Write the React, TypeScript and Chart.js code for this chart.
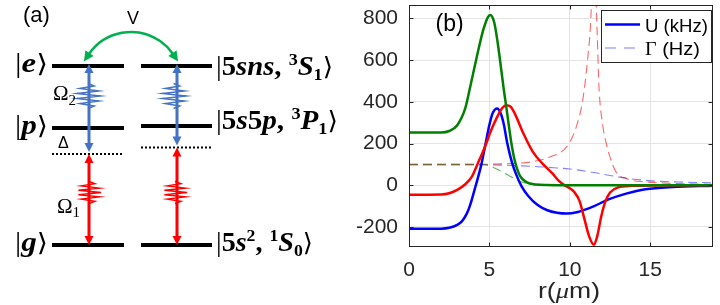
import React, { useEffect, useRef } from 'react';
import { Chart, registerables } from 'chart.js';

Chart.register(...registerables);

// ================= Panel (b) data =================
// Solid curves: U (kHz) vs r (µm)
const rBlue = [0, 2.0, 2.5, 3.0, 3.3, 3.6, 3.8, 4.1, 4.3, 4.5, 4.8, 5.0, 5.2, 5.48, 5.7, 5.9, 6.1, 6.4, 6.7, 7.0, 7.4, 8.0, 8.6, 9.2, 9.8, 10.5, 11.4, 12.4, 13.5, 14.7, 16.4, 18.9];
const uBlue = [-208, -208, -204, -190, -172, -135, -95, -15, 40, 100, 215, 290, 345, 368, 345, 290, 205, 110, 45, -5, -50, -95, -120, -132, -136, -128, -104, -68, -40, -19, -8, -2];

const rRed = [0, 2.0, 2.5, 3.0, 3.5, 3.9, 4.25, 4.7, 5.1, 5.5, 5.8, 6.05, 6.3, 6.6, 7.1, 7.7, 8.3, 8.9, 9.3, 9.7, 10.0, 10.3, 10.6, 10.9, 11.2, 11.49, 11.7, 11.95, 12.2, 12.5, 13.0, 13.9, 15, 18.9];
const uRed = [-45, -44, -38, -22, 5, 40, 100, 180, 262, 330, 370, 384, 378, 340, 250, 160, 104, 58, 22, -2, -14, -35, -75, -160, -245, -285, -245, -150, -80, -35, -10, -3, -1, 0];

const rGreen = [0, 2.0, 2.5, 3.0, 3.5, 3.8, 4.2, 4.6, 4.9, 5.05, 5.3, 5.5, 5.7, 5.9, 6.05, 6.2, 6.4, 6.6, 6.9, 7.3, 7.9, 8.6, 9.5, 18.9];
const uGreen = [253, 253, 260, 288, 370, 470, 610, 740, 805, 816, 780, 690, 575, 455, 375, 290, 185, 110, 45, 15, 4, 1, 0, 0];

// Dashed curves: Γ (Hz) vs r (µm)
const rGammaBlue = [0, 5, 6, 7, 8, 9, 10, 11.4, 12.5, 13.5, 14.5, 15.5, 17, 18.9];
const gammaBlue = [97, 97, 96, 93, 89, 84, 78, 62, 47, 34, 25, 19, 15, 12];

const rGammaRed = [0, 4, 5, 6, 7, 7.7, 8.4, 8.9, 9.3, 9.6, 9.95, 10.4, 10.8, 11.1, 11.3, 11.47, 11.7, 11.8, 12.05, 12.25, 12.46, 12.87, 13.5, 14.7, 16.8, 18.9];
const gammaRed = [100, 100, 101, 103, 107, 113, 125, 140, 152, 168, 200, 280, 408, 600, 790, 1150, 730, 490, 285, 205, 144, 64, 32, 16, 8, 5];

const rGammaGreen = [0, 4.5, 4.8, 5.2, 5.6, 6.2, 6.8, 7.5, 8.0, 9.0, 18.9];
const gammaGreen = [101, 101, 98, 88, 72, 47, 22, 6, 1, 0, 0];

const xTicks = [0, 5, 10, 15];
const yTicks = [-200, 0, 200, 400, 600, 800];
const xRange = [0, 18.9];
const yRange = [-296, 864];
const legendLabels = ['U (kHz)', 'Γ (Hz)'];
const panelLabels = ['(a)', '(b)'];
const xAxisLabel = ['r(', 'μ', 'm)'];

// ================= Panel (a) data (level diagram, px-like units) =================
const columnsX = [[52, 124], [141, 212]];
const levelNames = ['e', 'p', 'g'];
const levelYLeft = [66, 128, 245];
const levelYRight = [66, 126, 245];
const virtualY = [154, 147.5];
const arrowX = [89, 177];
const wiggleBlueX = [88, 173.5];
const wiggleRedX = [89, 175];
const wiggleBlueY = 96;
const wiggleRedY = 192.5;
const arcEndsX = [89, 173];
const arcBaseY = 54;
const arcPeakY = 32;
const couplingLabel = 'V';
const rightLabelBaseline = [75, 129, 251];

// ================= styles =================
const SANS = '"Liberation Sans", Arial, sans-serif';
const SERIF = '"Liberation Serif", "Times New Roman", serif';
const MATH = '"DejaVu Serif", serif';
const AX = '#262626';
const GRID = '#e4e4e4';
const BLUE_ARROW = '#4472C4';
const RED_ARROW = '#FF0000';
const GREEN_ARC = '#00B050';

type Seg = { t: string; f: string; dy?: number };

function drawRich(ctx: CanvasRenderingContext2D, segs: Seg[], x: number, y: number, align: 'left' | 'right' | 'center', targetW?: number, color = '#000') {
  ctx.save();
  let W = 0;
  const ws: number[] = [];
  for (const s of segs) {
    ctx.font = s.f;
    const w = ctx.measureText(s.t).width;
    ws.push(w);
    W += w;
  }
  const sc = targetW ? targetW / W : 1;
  const tw = W * sc;
  const x0 = align === 'left' ? x : align === 'right' ? x - tw : x - tw / 2;
  ctx.translate(x0, y);
  ctx.scale(sc, 1);
  ctx.fillStyle = color;
  ctx.textBaseline = 'alphabetic';
  ctx.textAlign = 'left';
  let cx = 0;
  segs.forEach((s, i) => {
    ctx.font = s.f;
    ctx.fillText(s.t, cx, s.dy || 0);
    cx += ws[i];
  });
  ctx.restore();
}

const pts = (xs: number[], ys: number[]) => xs.map((x, i) => ({ x, y: ys[i] }));

function arrowHead(ctx: CanvasRenderingContext2D, tipX: number, tipY: number, dx: number, dy: number, color: string, len = 9, half = 4.5) {
  const n = Math.hypot(dx, dy);
  const ux = dx / n, uy = dy / n;
  const bx = tipX - ux * len, by = tipY - uy * len;
  ctx.beginPath();
  ctx.moveTo(tipX, tipY);
  ctx.lineTo(bx - uy * half, by + ux * half);
  ctx.lineTo(bx + uy * half, by - ux * half);
  ctx.closePath();
  ctx.fillStyle = color;
  ctx.fill();
}

function wiggle(ctx: CanvasRenderingContext2D, cx: number, cy: number, halfH: number, amp: number, color: string) {
  const n = 10;
  ctx.save();
  ctx.strokeStyle = color;
  ctx.lineWidth = 1.4;
  ctx.lineJoin = 'miter';
  ctx.beginPath();
  for (let i = 0; i <= n; i++) {
    const t = i / n;
    const env = Math.pow(Math.sin(Math.PI * t), 0.6);
    const side = i % 2 === 0 ? -1 : 1;
    const x = cx + side * amp * env * (side > 0 ? 1.05 : 0.95);
    const y = cy - halfH + 2 * halfH * t;
    if (i === 0) ctx.moveTo(x, y); else ctx.lineTo(x, y);
  }
  ctx.stroke();
  ctx.restore();
}

const diagramPlugin = {
  id: 'diagramA',
  afterDatasetsDraw(chart: any) {
    const ctx: CanvasRenderingContext2D = chart.ctx;
    const sx = chart.scales.x, sy = chart.scales.y;
    const X = (v: number) => sx.getPixelForValue(v);
    const Y = (v: number) => sy.getPixelForValue(v);

    // arrowheads
    for (let c = 0; c < 2; c++) {
      const ys = c === 0 ? levelYLeft : levelYRight;
      const ax = X(arrowX[c]);
      arrowHead(ctx, ax, Y(ys[0] - 2), 0, -1, BLUE_ARROW);
      arrowHead(ctx, ax, Y(virtualY[c] - 2), 0, 1, BLUE_ARROW);
      arrowHead(ctx, ax, Y(virtualY[c]), 0, -1, RED_ARROW);
      arrowHead(ctx, ax, Y(ys[2]), 0, 1, RED_ARROW);
      wiggle(ctx, X(wiggleBlueX[c]), Y(wiggleBlueY), 12.5, 12, BLUE_ARROW);
      wiggle(ctx, X(wiggleRedX[c]), Y(wiggleRedY), 11, 11.5, RED_ARROW);
    }

    // green coupling arc
    const xl = X(arcEndsX[0]), xr = X(arcEndsX[1]);
    const yb = Y(arcBaseY), yp = Y(arcPeakY);
    const h = (xr - xl) / 2, s = yb - yp;
    const R = (h * h + s * s) / (2 * s);
    const cxA = (xl + xr) / 2, cyA = yp + R;
    const a0 = Math.atan2(yb - cyA, xl - cxA), a1 = Math.atan2(yb - cyA, xr - cxA);
    ctx.save();
    ctx.strokeStyle = GREEN_ARC;
    ctx.lineWidth = 2.5;
    ctx.beginPath();
    ctx.arc(cxA, cyA, R, a0, a1, false);
    ctx.stroke();
    ctx.restore();
    const tl = [-(yb - cyA), xl - cxA]; // tangent at left end
    const tlx = -(cyA - yb) * 0 + (yb - cyA), tly = -(xl - cxA);
    // left: direction down-left; right: down-right
    const lvx = (yb - cyA) / R, lvy = -(xl - cxA) / R; // perpendicular
    const dL = lvy > 0 ? [lvx, lvy] : [-lvx, -lvy];
    const rvx = (yb - cyA) / R, rvy = -(xr - cxA) / R;
    const dR = rvy > 0 ? [rvx, rvy] : [-rvx, -rvy];
    void tl; void tlx; void tly;
    arrowHead(ctx, xl + dL[0] * 9, yb + dL[1] * 9, dL[0], dL[1], GREEN_ARC, 10, 5);
    arrowHead(ctx, xr + dR[0] * 9, yb + dR[1] * 9, dR[0], dR[1], GREEN_ARC, 10, 5);

    // texts
    drawRich(ctx, [{ t: panelLabels[0], f: `22px ${SANS}` }], X(23), Y(22), 'left');
    drawRich(ctx, [{ t: couplingLabel, f: `18px ${SANS}` }], X(133), Y(23.5), 'center');

    levelNames.forEach((nm, i) => {
      drawRich(ctx, [
        { t: '|', f: `27px ${SERIF}` },
        { t: nm, f: `italic bold 27px ${SERIF}` },
        { t: '⟩', f: `25px ${MATH}` },
      ], X(48), Y(levelYLeft[i] + 6), 'right', 33);
    });

    const B = (sz: number) => `bold ${sz}px ${SERIF}`;
    const BI = (sz: number) => `italic bold ${sz}px ${SERIF}`;
    const bar = { t: '|', f: `27px ${SERIF}` };
    const ket = { t: '⟩', f: `25px ${MATH}` };
    const rightLabels: { segs: Seg[]; w: number }[] = [
      { segs: [bar, { t: '5', f: B(27) }, { t: 'sns', f: BI(27) }, { t: ', ', f: B(27) }, { t: '3', f: B(17), dy: -10 }, { t: 'S', f: BI(27) }, { t: '1', f: B(17), dy: 5 }, ket], w: 117 },
      { segs: [bar, { t: '5', f: B(27) }, { t: 's', f: BI(27) }, { t: '5', f: B(27) }, { t: 'p', f: BI(27) }, { t: ', ', f: B(27) }, { t: '3', f: B(17), dy: -10 }, { t: 'P', f: BI(27) }, { t: '1', f: B(17), dy: 5 }, ket], w: 122 },
      { segs: [bar, { t: '5', f: B(27) }, { t: 's', f: BI(27) }, { t: '2', f: B(17), dy: -10 }, { t: ', ', f: B(27) }, { t: '1', f: B(17), dy: -10 }, { t: 'S', f: BI(27) }, { t: '0', f: B(17), dy: 5 }, ket], w: 97 },
    ];
    rightLabels.forEach((lb, i) => drawRich(ctx, lb.segs, X(216), Y(rightLabelBaseline[i]), 'left', lb.w));

    drawRich(ctx, [{ t: 'Ω', f: `21px ${SERIF}` }, { t: '2', f: `15px ${SERIF}`, dy: 5 }], X(53), Y(100), 'left');
    drawRich(ctx, [{ t: 'Ω', f: `21px ${SERIF}` }, { t: '1', f: `15px ${SERIF}`, dy: 4 }], X(57), Y(213), 'left');
    drawRich(ctx, [{ t: 'Δ', f: `16px ${SANS}` }], X(58), Y(148), 'left');
  },
};

const panelBPlugin = {
  id: 'panelB',
  afterDraw(chart: any) {
    const ctx: CanvasRenderingContext2D = chart.ctx;
    const ca = chart.chartArea;
    const sx = chart.scales.x, sy = chart.scales.y;
    ctx.save();
    ctx.strokeStyle = AX;
    ctx.lineWidth = 1;
    const L = Math.round(ca.left) + 0.5, R = Math.round(ca.right) - 0.5;
    const T = Math.round(ca.top) + 0.5, Bt = Math.round(ca.bottom) - 0.5;
    ctx.beginPath();
    for (const v of xTicks) {
      const p = Math.round(sx.getPixelForValue(v)) + 0.5;
      ctx.moveTo(p, Bt); ctx.lineTo(p, Bt - 4);
      ctx.moveTo(p, T); ctx.lineTo(p, T + 4);
    }
    for (const v of yTicks) {
      const p = Math.round(sy.getPixelForValue(v)) + 0.5;
      ctx.moveTo(L, p); ctx.lineTo(L + 4, p);
      ctx.moveTo(R, p); ctx.lineTo(R - 4, p);
    }
    ctx.stroke();
    ctx.strokeRect(L, T, R - L, Bt - T);
    ctx.restore();

    // panel label (b)
    drawRich(ctx, [{ t: panelLabels[1], f: `23px ${SANS}` }], ca.left + 26.5, ca.top + 25.5, 'left');

    // x-axis label r(µm)
    drawRich(ctx, [
      { t: xAxisLabel[0], f: `22px ${SANS}` },
      { t: xAxisLabel[1], f: `italic 22px ${SERIF}` },
      { t: xAxisLabel[2], f: `22px ${SANS}` },
    ], 569, 297.5, 'center', 62, AX);

    // legend
    const lw = 110, lh = 52;
    const lx = Math.round(ca.right) - 111.5, ly = Math.round(ca.top) + 5.5;
    ctx.save();
    ctx.fillStyle = '#fff';
    ctx.fillRect(lx, ly, lw, lh);
    ctx.strokeStyle = AX;
    ctx.lineWidth = 1;
    ctx.strokeRect(lx, ly, lw, lh);
    ctx.strokeStyle = '#0000ff';
    ctx.lineWidth = 2.5;
    ctx.beginPath(); ctx.moveTo(lx + 3.5, ly + 14); ctx.lineTo(lx + 38.5, ly + 14); ctx.stroke();
    ctx.strokeStyle = 'rgba(70,70,255,0.7)';
    ctx.lineWidth = 1.2;
    ctx.setLineDash([11, 8]);
    ctx.beginPath(); ctx.moveTo(lx + 3.5, ly + 37.5); ctx.lineTo(lx + 38.5, ly + 37.5); ctx.stroke();
    ctx.restore();
    drawRich(ctx, [{ t: legendLabels[0], f: `19px ${SANS}` }], lx + 43.5, ly + 21, 'left', 63);
    drawRich(ctx, [{ t: legendLabels[1].slice(0, 1), f: `19px ${SERIF}` }, { t: legendLabels[1].slice(1), f: `19px ${SANS}` }], lx + 43.5, ly + 44.5, 'left', 55);
  },
};

export default function App() {
  const mainRef = useRef<HTMLCanvasElement>(null);
  const diagRef = useRef<HTMLCanvasElement>(null);

  useEffect(() => {
    document.body.style.margin = '0';
    document.body.style.background = '#fff';

    const solid = (data: any, color: string, order: number) => ({
      data, borderColor: color, borderWidth: 2.5, pointRadius: 0, order,
      cubicInterpolationMode: 'monotone', fill: false,
    });
    const dashed = (data: any, color: string, order: number) => ({
      data, borderColor: color, borderWidth: 1.1, pointRadius: 0, order,
      borderDash: [9, 5], cubicInterpolationMode: 'monotone', fill: false,
    });

    const main = new Chart(mainRef.current!, {
      type: 'line',
      data: {
        datasets: [
          solid(pts(rGreen, uGreen), '#008000', 0),
          solid(pts(rRed, uRed), '#ff0000', 1),
          solid(pts(rBlue, uBlue), '#0000ff', 2),
          dashed(pts(rGammaGreen, gammaGreen), 'rgba(0,128,0,0.6)', 3),
          dashed(pts(rGammaRed, gammaRed), 'rgba(255,0,0,0.6)', 4),
          dashed(pts(rGammaBlue, gammaBlue), 'rgba(60,60,255,0.65)', 5),
        ] as any,
      },
      options: {
        animation: false,
        responsive: false,
        devicePixelRatio: 1,
        events: [],
        layout: { padding: { top: 5, right: 7, bottom: 0, left: 0 } },
        plugins: { legend: { display: false }, tooltip: { enabled: false } },
        scales: {
          x: {
            type: 'linear', min: xRange[0], max: xRange[1],
            afterBuildTicks: (s: any) => { s.ticks = xTicks.map((v) => ({ value: v })); },
            afterFit: (s: any) => { s.height = 58; s.paddingLeft = 0; s.paddingRight = 0; },
            grid: { color: GRID, drawTicks: false, lineWidth: 1 },
            border: { display: false },
            ticks: { padding: 11, color: AX, font: { family: SANS, size: 21 }, maxRotation: 0, autoSkip: false, callback: (v: any) => String(v) },
          },
          y: {
            type: 'linear', min: yRange[0], max: yRange[1],
            afterBuildTicks: (s: any) => { s.ticks = yTicks.map((v) => ({ value: v })); },
            afterFit: (s: any) => { s.width = 409; s.paddingTop = 0; s.paddingBottom = 0; },
            grid: { color: GRID, drawTicks: false, lineWidth: 1 },
            border: { display: false },
            ticks: { padding: 11, color: AX, font: { family: SANS, size: 21 }, autoSkip: false, callback: (v: any) => String(v) },
          },
        },
      } as any,
      plugins: [panelBPlugin],
    });

    // ---------- diagram ----------
    const diagDatasets: any[] = [];
    for (let c = 0; c < 2; c++) {
      const [x0, x1] = columnsX[c];
      const ys = c === 0 ? levelYLeft : levelYRight;
      ys.forEach((y) => diagDatasets.push({
        data: [{ x: x0, y }, { x: x1, y }], borderColor: '#000', borderWidth: 4, showLine: true, pointRadius: 0, order: 3, borderCapStyle: 'butt',
      }));
      diagDatasets.push({
        data: [{ x: x0, y: virtualY[c] }, { x: x1, y: virtualY[c] }], borderColor: '#000', borderWidth: 2, borderDash: [2, 2], showLine: true, pointRadius: 0, order: 3,
      });
      diagDatasets.push({
        data: [{ x: arrowX[c], y: ys[0] + 5 }, { x: arrowX[c], y: virtualY[c] - 9 }], borderColor: BLUE_ARROW, borderWidth: 3, showLine: true, pointRadius: 0, order: 1,
      });
      diagDatasets.push({
        data: [{ x: arrowX[c], y: virtualY[c] + 7 }, { x: arrowX[c], y: ys[2] - 7 }], borderColor: RED_ARROW, borderWidth: 3, showLine: true, pointRadius: 0, order: 1,
      });
    }

    const diag = new Chart(diagRef.current!, {
      type: 'scatter',
      data: { datasets: diagDatasets },
      options: {
        animation: false,
        responsive: false,
        devicePixelRatio: 1,
        events: [],
        layout: { padding: 0 },
        plugins: { legend: { display: false }, tooltip: { enabled: false } },
        scales: {
          x: { type: 'linear', min: 0, max: 360, display: false },
          y: { type: 'linear', min: 0, max: 305, reverse: true, display: false },
        },
      } as any,
      plugins: [diagramPlugin],
    });

    return () => { main.destroy(); diag.destroy(); };
  }, []);

  return (
    <div style={{ position: 'relative', width: 720, height: 305, background: '#fff' }}>
      <canvas ref={mainRef} width={720} height={305} style={{ position: 'absolute', left: 0, top: 0 }} />
      <canvas ref={diagRef} width={360} height={305} style={{ position: 'absolute', left: 0, top: 0 }} />
    </div>
  );
}
